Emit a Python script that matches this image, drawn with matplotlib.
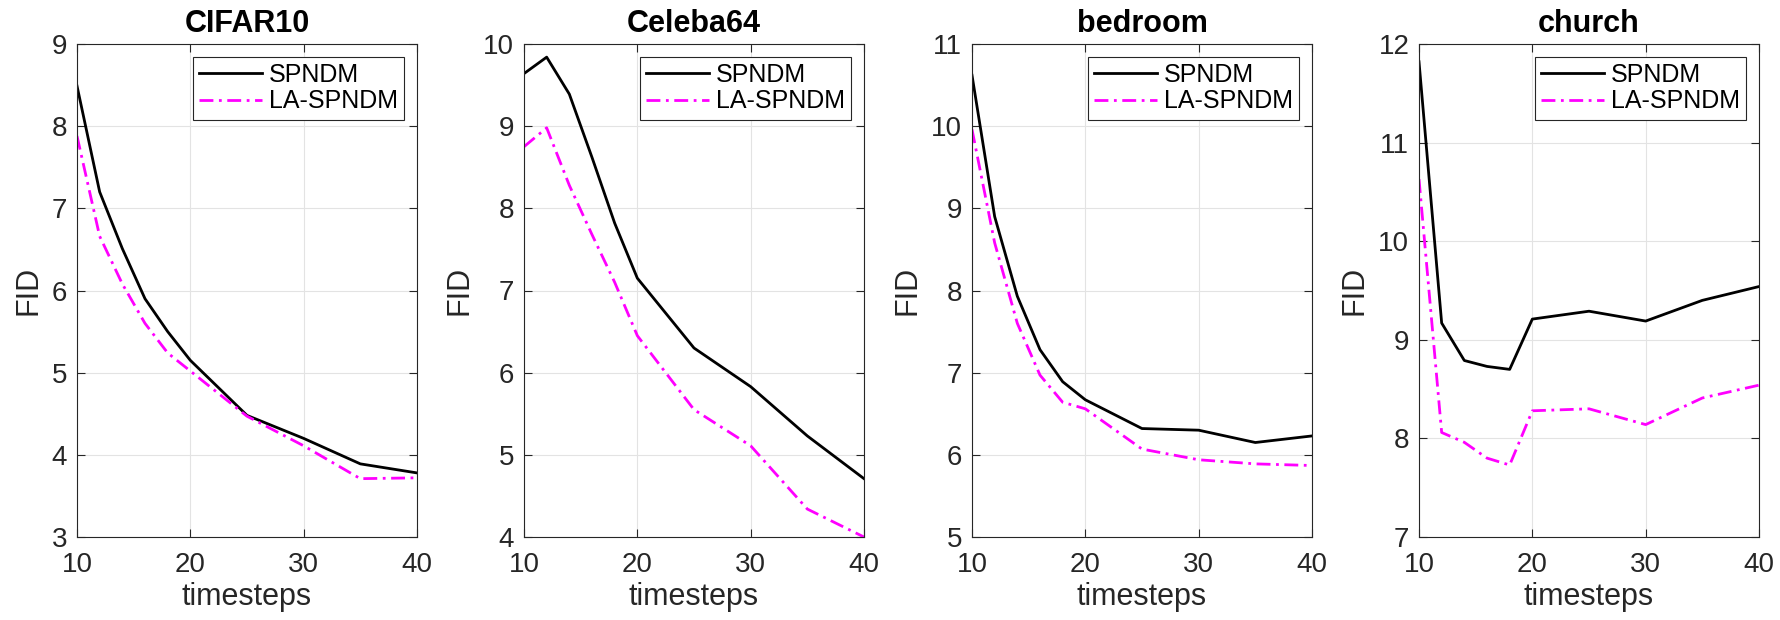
import matplotlib
matplotlib.use("Agg")
import matplotlib.pyplot as plt

plt.rcParams["font.family"] = ["Liberation Sans", "DejaVu Sans"]

timesteps = [10, 12, 14, 16, 18, 20, 25, 30, 35, 40]
titles = ["CIFAR10", "Celeba64", "bedroom", "church"]

cifar_spndm = [8.49, 7.20, 6.51, 5.90, 5.50, 5.15, 4.48, 4.20, 3.89, 3.78]
cifar_la = [7.88, 6.66, 6.08, 5.60, 5.24, 5.02, 4.47, 4.11, 3.71, 3.72]

celeba_spndm = [9.64, 9.84, 9.39, 8.62, 7.82, 7.15, 6.30, 5.83, 5.23, 4.71]
celeba_la = [8.75, 8.98, 8.28, 7.68, 7.10, 6.45, 5.55, 5.11, 4.34, 4.00]

bedroom_spndm = [10.62, 8.90, 7.93, 7.28, 6.89, 6.67, 6.32, 6.30, 6.15, 6.23]
bedroom_la = [9.96, 8.58, 7.60, 6.97, 6.64, 6.56, 6.07, 5.94, 5.89, 5.87]

church_spndm = [11.82, 9.17, 8.79, 8.73, 8.70, 9.21, 9.29, 9.19, 9.40, 9.54]
church_la = [10.63, 8.06, 7.96, 7.80, 7.73, 8.28, 8.30, 8.14, 8.41, 8.54]

spndm = [cifar_spndm, celeba_spndm, bedroom_spndm, church_spndm]
la_spndm = [cifar_la, celeba_la, bedroom_la, church_la]
ylims = [(3, 9), (4, 10), (5, 11), (7, 12)]

W, H = 1781, 620
fig = plt.figure(figsize=(W / 100, H / 100), dpi=100)
lefts = [77, 524, 972, 1419]
top, bottom, width = 44, 537, 340
dark = "#262626"

for i in range(4):
    ax = fig.add_axes([lefts[i] / W, (H - bottom) / H, width / W, (bottom - top) / H])
    ax.plot(timesteps, spndm[i], color="black", lw=2.0, label="SPNDM")
    ax.plot(timesteps, la_spndm[i], color="#ff00ff", lw=2.0, ls=(0, (5, 2, 1, 2)),
            label="LA-SPNDM")
    ax.set_xlim(10, 40)
    ax.set_ylim(*ylims[i])
    ax.set_xticks([10, 20, 30, 40])
    ax.grid(True, color="#e3e3e3", lw=0.8)
    ax.set_axisbelow(True)
    ax.tick_params(direction="in", top=True, right=True, labelsize=20,
                   colors=dark, length=6, width=0.8)
    ax.tick_params(axis="x", pad=11)
    ax.tick_params(axis="y", pad=7)
    for s in ax.spines.values():
        s.set_color(dark)
        s.set_linewidth(0.8)
    ax.set_title(titles[i], fontsize=22, fontweight="bold", pad=9)
    ax.set_xlabel("timesteps", fontsize=22, color=dark, labelpad=3)
    ax.set_ylabel("FID", fontsize=22, color=dark, labelpad=6)
    leg = ax.legend(loc="upper right", fontsize=18, fancybox=False,
                    edgecolor=dark, framealpha=1, borderaxespad=0.5,
                    handlelength=2.5, handletextpad=0.3, labelspacing=0.1,
                    borderpad=0.25)
    leg.get_frame().set_linewidth(0.8)

fig.savefig("out.png", dpi=100)
